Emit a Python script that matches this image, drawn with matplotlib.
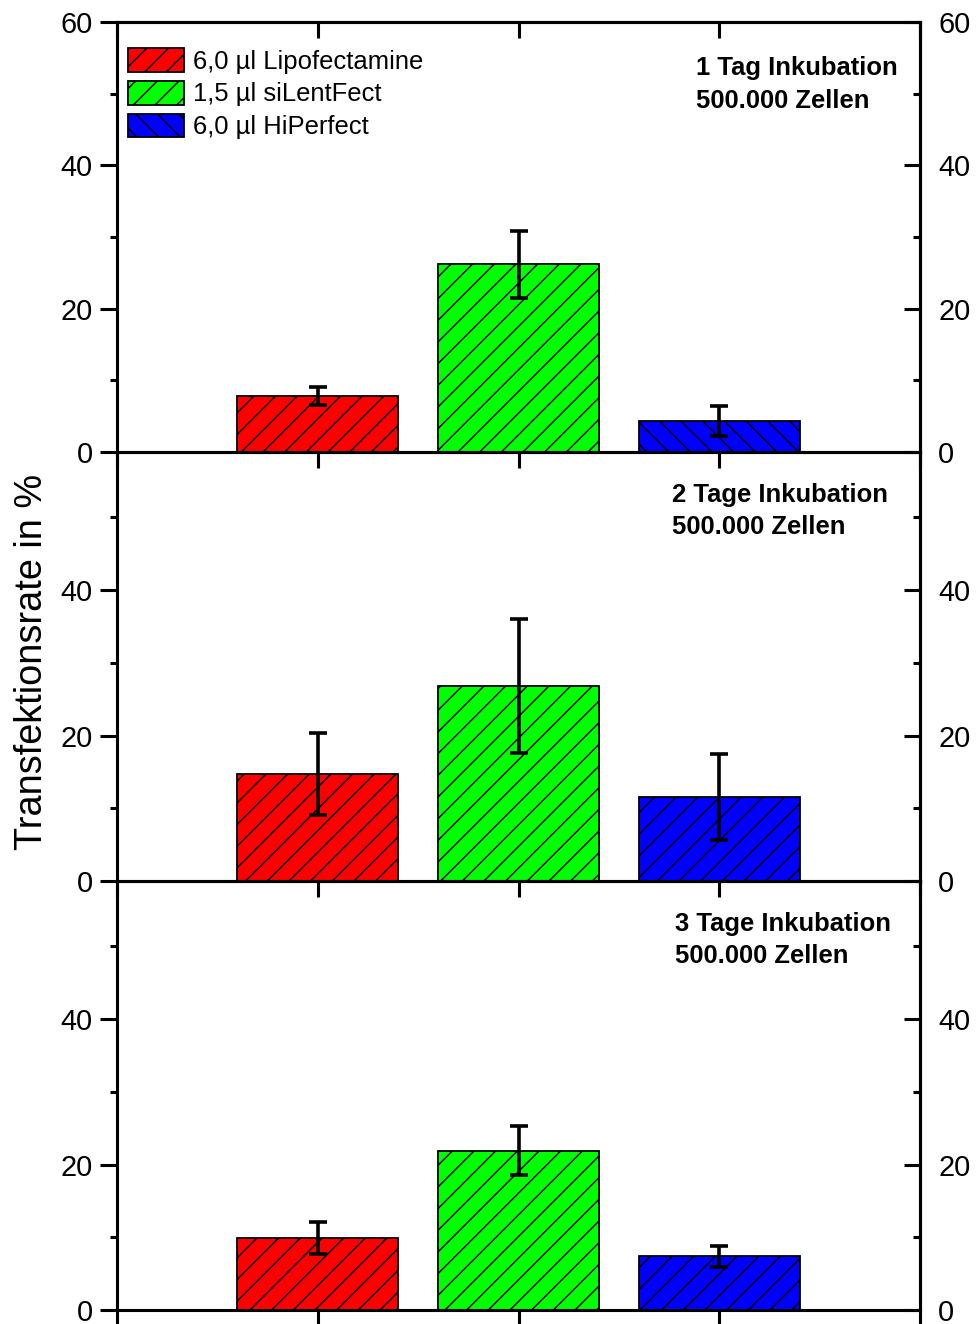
import matplotlib
matplotlib.use('Agg')
import matplotlib.pyplot as plt
from matplotlib.ticker import MultipleLocator, NullFormatter

# Transfektionsrate (%) je Reagenz und Inkubationsdauer
reagents = ['6,0 µl Lipofectamine', '1,5 µl siLentFect', '6,0 µl HiPerfect']
colors = ['#ff0000', '#00ff00', '#0000ff']
x_pos = [1, 2, 3]

tag1 = [7.8, 26.2, 4.3]
tag1_err = [1.2, 4.7, 2.1]
tag2 = [14.7, 26.8, 11.5]
tag2_err = [5.6, 9.2, 5.9]
tag3 = [9.9, 21.9, 7.4]
tag3_err = [2.2, 3.4, 1.45]

titles = ['1 Tag Inkubation\n500.000 Zellen',
          '2 Tage Inkubation\n500.000 Zellen',
          '3 Tage Inkubation\n500.000 Zellen']

plt.rcParams['font.family'] = ['Liberation Sans', 'DejaVu Sans']
plt.rcParams['hatch.linewidth'] = 0.8

DPI = 130
fig = plt.figure(figsize=(979 / DPI, 1324 / DPI), dpi=DPI)

W, H = 979.0, 1324.0
left, right = 117, 920
# (top, bottom) in pixels for every panel
panels = [(22, 452), (452, 881), (881, 1310)]
data = [(tag1, tag1_err), (tag2, tag2_err), (tag3, tag3_err)]
hatches = [['//', '//', '\\\\'], ['//', '//', '//'], ['//', '//', '//']]
ymax = [60, 59, 59]
text_x = [0.721, 0.691, 0.695]
text_y = [0.921, 0.928, 0.928]

lw_spine = 1.7
fs_tick = 16

for i, (top, bot) in enumerate(panels):
    ax = fig.add_axes([left / W, 1 - bot / H, (right - left) / W, (bot - top) / H])
    ax.patch.set_visible(False)
    vals, errs = data[i]
    for j in range(3):
        ax.bar(x_pos[j], vals[j], width=0.8, color=colors[j], edgecolor='black',
               linewidth=1.0, hatch=hatches[i][j], label=reagents[j], zorder=2)
    ax.errorbar(x_pos, vals, yerr=errs, fmt='none', ecolor='black', elinewidth=2.0,
                capsize=5, capthick=2.0, zorder=3)
    ax.set_xlim(0, 4)
    ax.set_ylim(0, ymax[i])
    for s in ax.spines.values():
        s.set_linewidth(lw_spine)

    ax.xaxis.set_major_locator(MultipleLocator(1))
    ax.xaxis.set_major_formatter(NullFormatter())
    ax.tick_params(axis='x', which='major', direction='out', length=9, width=lw_spine)

    ax.yaxis.set_major_locator(MultipleLocator(20))
    ax.yaxis.set_minor_locator(MultipleLocator(10))
    ax.tick_params(axis='y', which='major', direction='out', length=9.5, width=lw_spine,
                   labelsize=fs_tick, pad=4)
    ax.tick_params(axis='y', which='minor', direction='out', length=4, width=lw_spine)

    sec = ax.secondary_yaxis('right')
    sec.yaxis.set_major_locator(MultipleLocator(20))
    sec.yaxis.set_minor_locator(MultipleLocator(10))
    sec.tick_params(axis='y', which='major', direction='in', length=9, width=lw_spine,
                    labelsize=fs_tick, pad=10)
    sec.tick_params(axis='y', which='minor', direction='in', length=4, width=lw_spine)
    sec.spines['right'].set_linewidth(lw_spine)

    if i == 0:
        topx = ax.secondary_xaxis('top')
        topx.xaxis.set_major_locator(MultipleLocator(1))
        topx.xaxis.set_major_formatter(NullFormatter())
        topx.tick_params(axis='x', direction='in', length=9, width=lw_spine)
        topx.spines['top'].set_linewidth(lw_spine)
        ax.legend(loc='upper left', bbox_to_anchor=(11 / 803, 1 - 26 / 430),
                  frameon=False, fontsize=14.2, borderpad=0, borderaxespad=0,
                  handlelength=2.2, handleheight=1.05, handletextpad=0.35,
                  labelspacing=0.28)

    ax.text(text_x[i], text_y[i], titles[i], transform=ax.transAxes, ha='left', va='top',
            fontsize=14.2, fontweight='bold', linespacing=1.45)

fig.text(0.033, 0.5, 'Transfektionsrate in %', rotation=90, ha='center', va='center',
         fontsize=21)

fig.savefig('out.png', dpi=DPI)
